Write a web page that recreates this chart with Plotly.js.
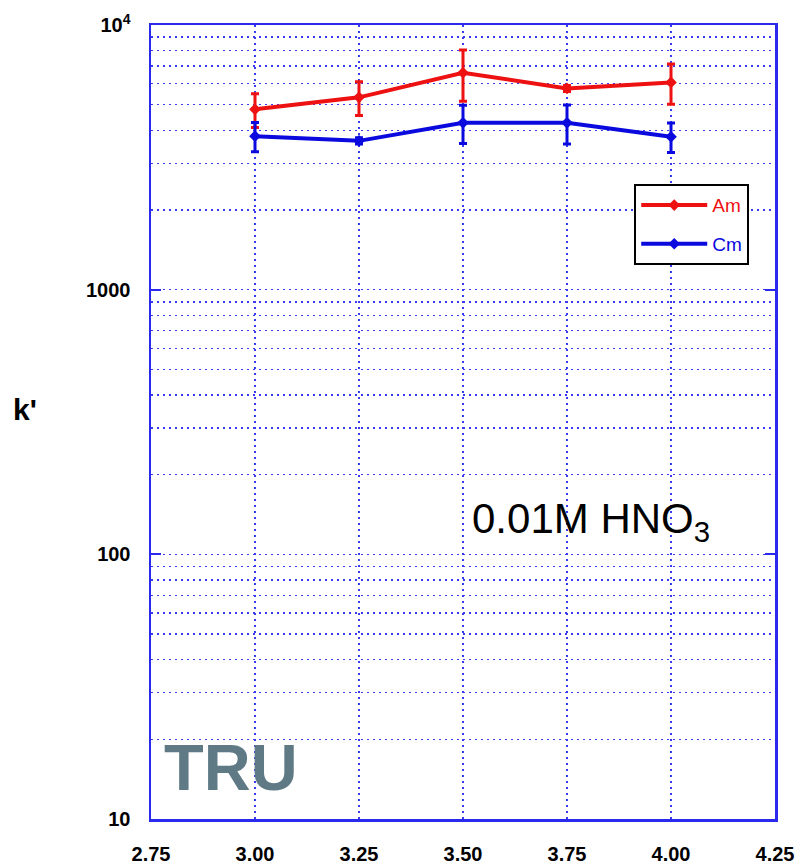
<!DOCTYPE html>
<html>
<head>
<meta charset="utf-8">
<script src="https://cdn.plot.ly/plotly-3.0.1.min.js"></script>
<style>html,body{margin:0;padding:0;background:#fff;}#chart{width:797px;height:865px;}</style>
</head>
<body>
<div id="chart"></div>
<script>
const xValues = [3.00, 3.25, 3.50, 3.75, 4.00];
const amValues = [4800, 5330, 6600, 5760, 6070];
const amErrors = [700, 780, 1450, 150, 1050];
const cmValues = [3800, 3650, 4270, 4270, 3780];
const cmErrors = [480, 100, 700, 720, 480];
const xTickVals = [2.75, 3.00, 3.25, 3.50, 3.75, 4.00, 4.25];
const xTickText = ['2.75', '3.00', '3.25', '3.50', '3.75', '4.00', '4.25'];
const yTickVals = [10, 100, 1000, 10000];
const yTickText = ['10', '100', '1000', '10<sup>4</sup>'];
const yMinorVals = [20,30,40,50,60,70,80,90,200,300,400,500,600,700,800,900,2000,3000,4000,5000,6000,7000,8000,9000];

const RED = '#ee1111';
const BLUE = '#0a0ade';
const GRID = '#3a3af0';
const tickFont = {family: 'Liberation Sans, Arial, sans-serif', size: 20, color: '#000', weight: 'bold'};

function series(name, y, err, color, group) {
  return {
    x: xValues, y: y, type: 'scatter', mode: 'lines+markers', name: name,
    legendgroup: group,
    line: {color: color, width: 4},
    marker: {symbol: 'diamond', size: 9, color: color},
    error_y: {type: 'data', array: err, visible: true, color: color, thickness: 3, width: 4}
  };
}

const data = [
  series('<span style="color:' + RED + '">Am</span>', amValues, amErrors, RED, 'a'),
  series('<span style="color:' + BLUE + '">Cm</span>', cmValues, cmErrors, BLUE, 'b')
];

const layout = {
  width: 797, height: 865,
  margin: {l: 151, r: 22, t: 25, b: 46},
  paper_bgcolor: '#fff', plot_bgcolor: '#fff',
  showlegend: true,
  xaxis: {
    range: [2.75, 4.25], tickmode: 'array', tickvals: xTickVals, ticktext: xTickText,
    showgrid: true, gridcolor: GRID, griddash: '2px,4px', gridwidth: 1.5,
    showline: true, linecolor: '#2a2aee', linewidth: 2.5, mirror: true,
    ticks: '', zeroline: false, tickfont: tickFont, ticklabelstandoff: 15
  },
  yaxis: {
    type: 'log', range: [1, 4], tickmode: 'array', tickvals: yTickVals, ticktext: yTickText,
    showgrid: true, gridcolor: GRID, griddash: '2px,4px', gridwidth: 1.5,
    minor: {tickmode: 'array', tickvals: yMinorVals, showgrid: true, gridcolor: GRID, griddash: '2px,4px', gridwidth: 1.5, ticks: ''},
    showline: true, linecolor: '#2a2aee', linewidth: 2.5, mirror: 'ticks',
    ticks: 'inside', ticklen: 10, tickwidth: 2, tickcolor: '#2a2aee',
    zeroline: false, tickfont: tickFont, ticklabelstandoff: 14
  },
  legend: {
    x: 0.7744, y: 0.7995, xanchor: 'left', yanchor: 'top',
    bgcolor: '#fff', bordercolor: '#000', borderwidth: 2,
    font: {family: 'Liberation Sans, Arial, sans-serif', size: 19},
    traceorder: 'grouped', tracegroupgap: 11, itemwidth: 66
  },
  annotations: [
    {text: "k'", xref: 'paper', yref: 'paper', x: -0.202, y: 0.516, xanchor: 'center', yanchor: 'middle',
     showarrow: false, font: {family: 'Liberation Sans, Arial, sans-serif', size: 30, color: '#000', weight: 'bold'}},
    {text: 'TRU', xref: 'paper', yref: 'paper', x: 0.018, y: 0.065, xanchor: 'left', yanchor: 'middle',
     showarrow: false, font: {family: 'Liberation Sans, Arial, sans-serif', size: 65, color: '#5f7a85', weight: 'bold'}},
    {text: '0.01M HNO<sub>3</sub>', xref: 'paper', yref: 'paper', x: 0.511, y: 0.375, xanchor: 'left', yanchor: 'middle',
     showarrow: false, font: {family: 'Liberation Sans, Arial, sans-serif', size: 42, color: '#000'}}
  ]
};

Plotly.newPlot('chart', data, layout, {displayModeBar: false, staticPlot: true});
</script>
</body>
</html>
